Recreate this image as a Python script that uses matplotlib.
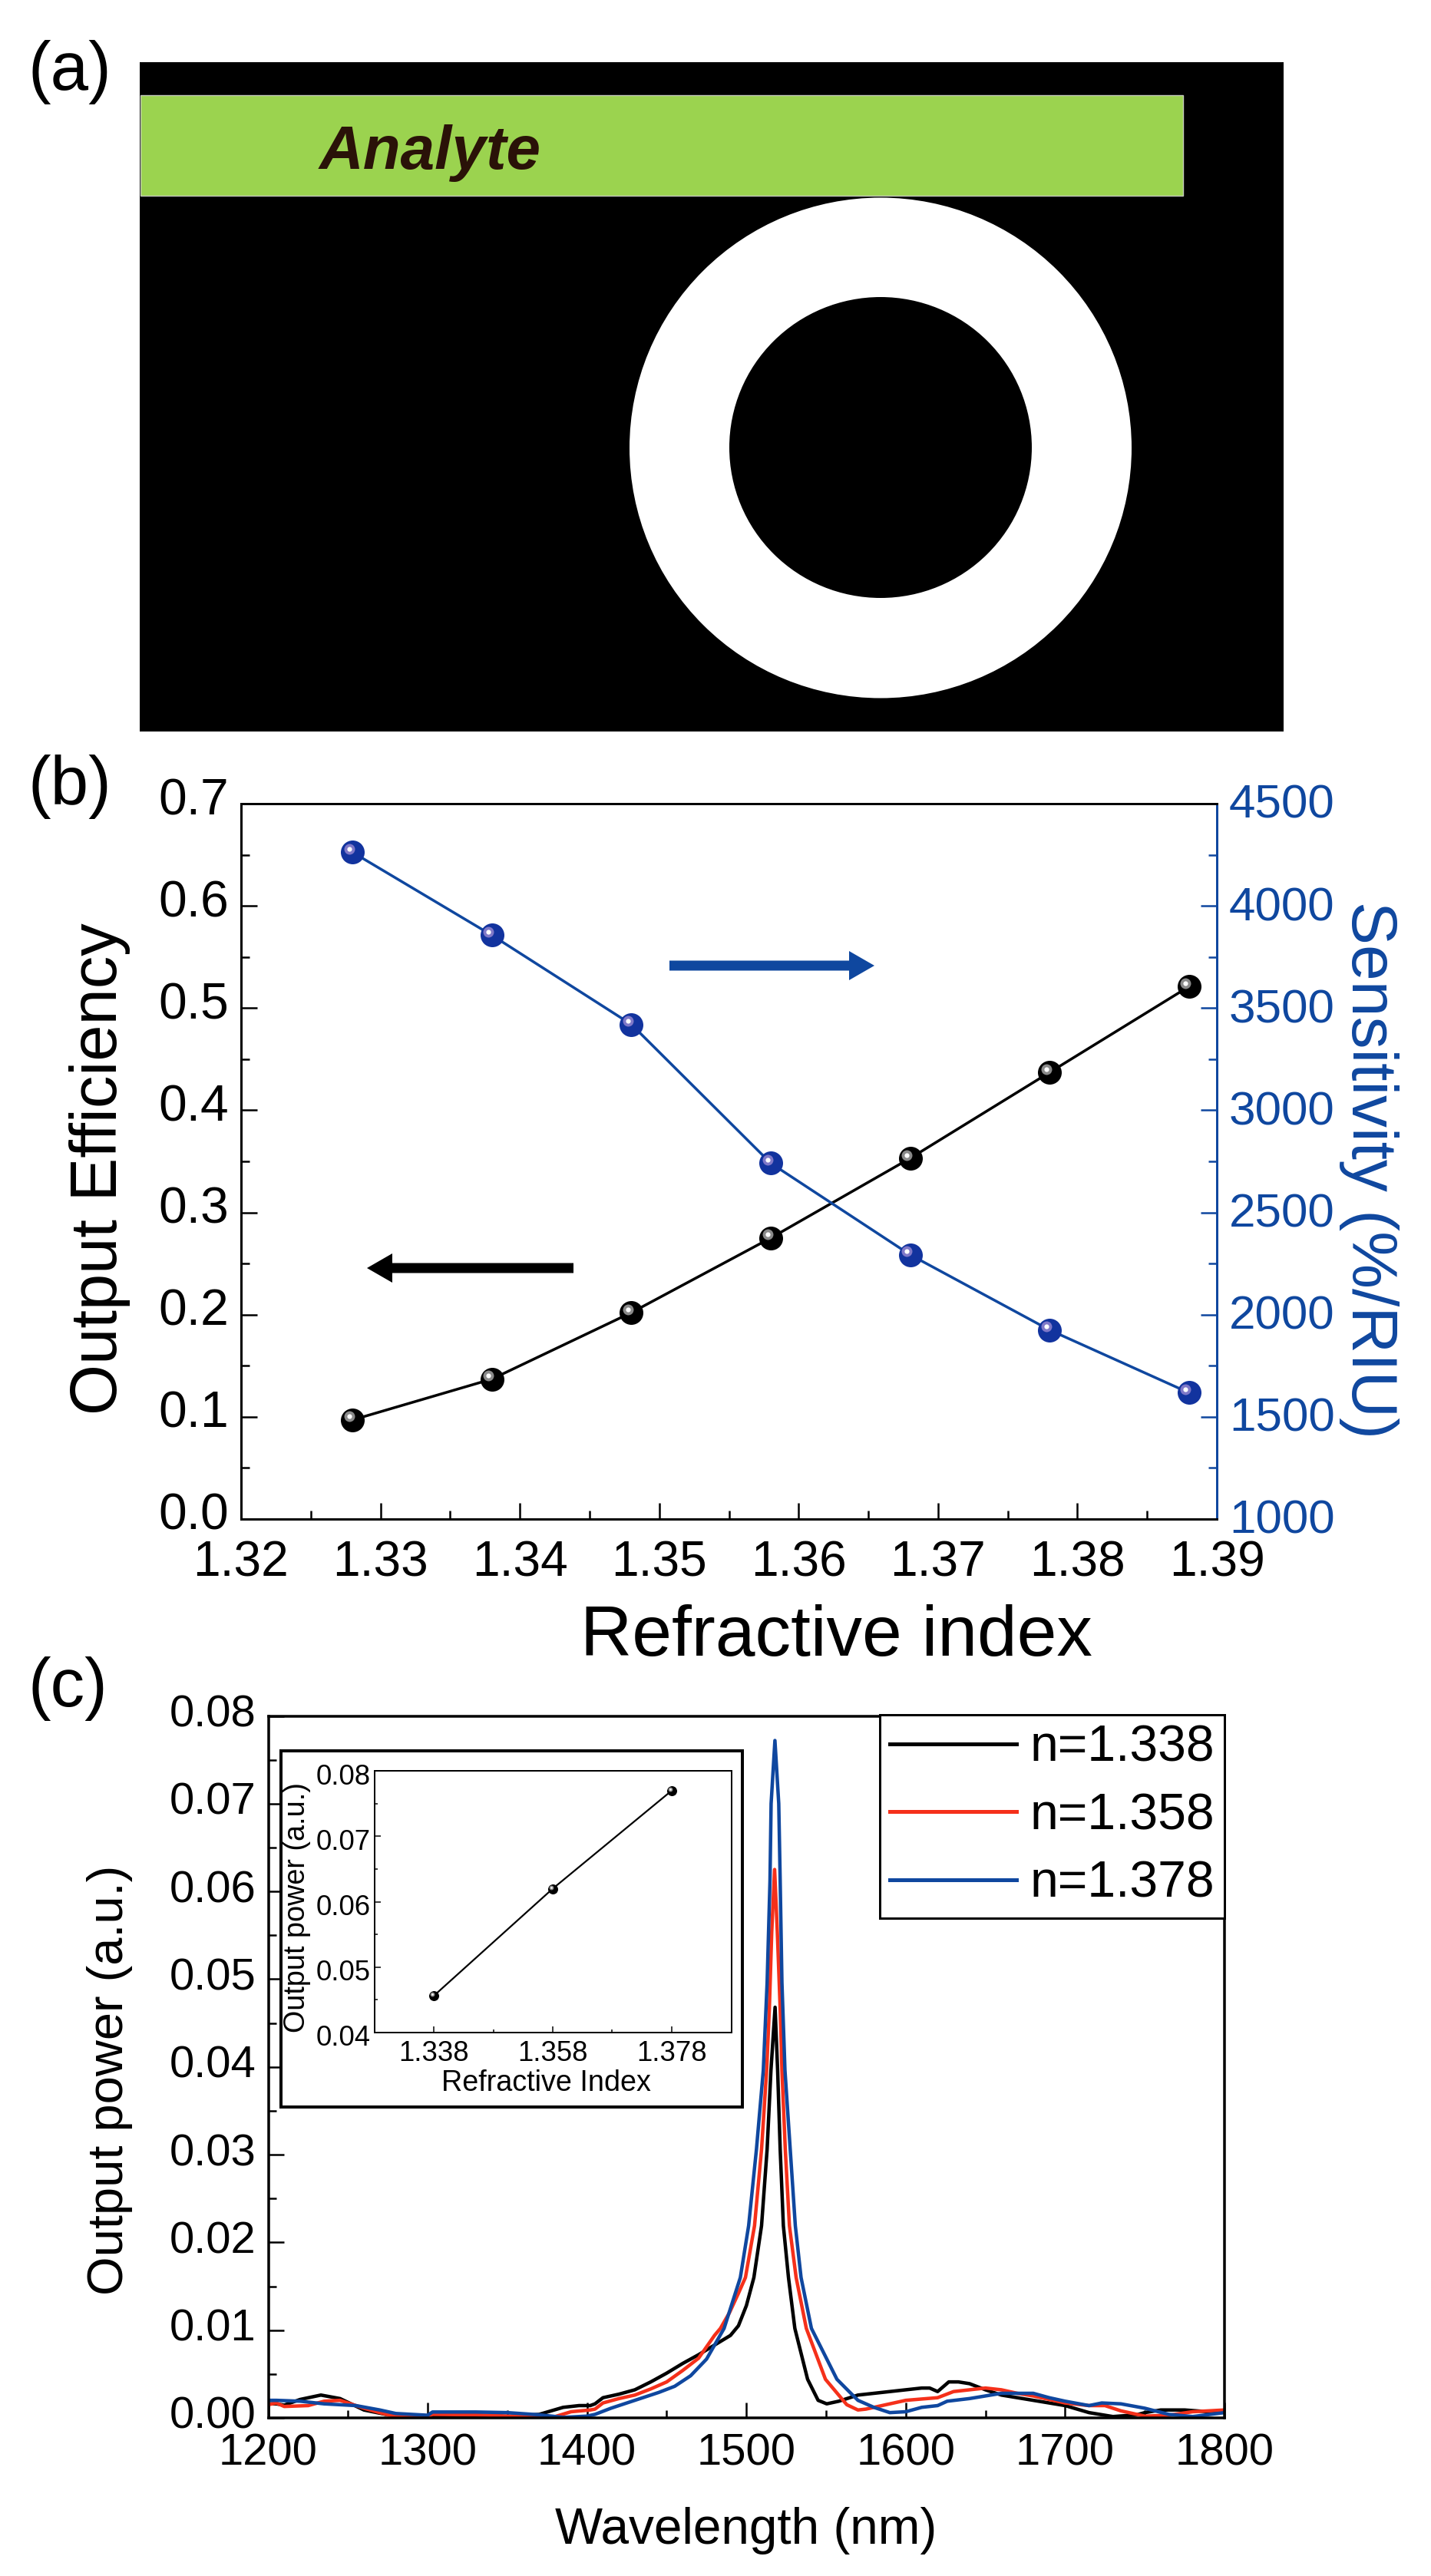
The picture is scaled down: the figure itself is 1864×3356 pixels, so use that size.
from matplotlib import pyplot as plt
from matplotlib.patches import Rectangle, Ellipse, FancyArrow
from matplotlib.ticker import MultipleLocator, FixedLocator
from matplotlib.transforms import ScaledTranslation, offset_copy, IdentityTransform
import numpy as np

plt.rcParams['font.family'] = ['Liberation Sans', 'DejaVu Sans']

W, H = 1864, 3356
DPI = 100
BLUE = '#0F479F'
RED = '#F5301A'

# panel (b)
n_b = [1.328, 1.338, 1.348, 1.358, 1.368, 1.378, 1.388]
efficiency = [0.097, 0.137, 0.202, 0.275, 0.353, 0.437, 0.521]
sensitivity = [4262, 3856, 3420, 2741, 2293, 1925, 1618]

# panel (c), curves
wl_338 = [1200, 1205, 1210, 1220, 1233, 1245, 1260, 1275, 1300, 1320, 1350, 1370, 1385, 1395, 1402, 1405,
          1410, 1420, 1430, 1440, 1450, 1460, 1470, 1480, 1490, 1495, 1500, 1504.7, 1509.5, 1513, 1515.4, 1518,
          1519.6, 1521.2, 1523.2, 1526.4, 1530.4, 1538.4, 1545, 1550.4, 1558, 1570, 1580, 1590, 1600, 1610,
          1615, 1620, 1627, 1633, 1640, 1650, 1660, 1670, 1680, 1700, 1715, 1730, 1745, 1750, 1760, 1775,
          1790, 1800]
p_338 = [.0016, .0016, .00145, .0021, .0026, .0022, .0009, .00035, .00015, .00006, .00015, .0004, .0012,
         .0014, .0014, .0016, .0023, .0027, .0032, .0041, .0051, .0062, .0072, .0083, .0094, .0105, .0128,
         .016, .0219, .0306, .0396, .0468, .0396, .0306, .0219, .016, .0102, .0044, .002, .0016, .0019,
         .0026, .0028, .003, .0032, .0034, .0034, .003, .0041, .0041, .0039, .0032, .0026, .0023, .002,
         .0014, .0006, .00015, .00035, .0006, .0009, .0009, .0007, .0007]

wl_358 = [1200, 1205, 1210, 1225, 1235, 1245, 1260, 1275, 1285, 1300, 1303, 1330, 1360, 1380, 1390, 1402,
          1405, 1410, 1420, 1430, 1440, 1450, 1460, 1470, 1480, 1483.7, 1489.4, 1495, 1499.4, 1505.1, 1509.5,
          1512.7, 1514.4, 1515.9, 1517.7, 1519.4, 1521.2, 1522.3, 1524.4, 1527, 1531.2, 1537.6, 1549.6, 1563,
          1570, 1575, 1585, 1600, 1620, 1630, 1640, 1650, 1660, 1670, 1680, 1700, 1715, 1725, 1735, 1750,
          1765, 1780, 1800]
p_358 = [.0015, .0017, .0013, .0014, .0019, .002, .0011, .00035, .0001, .00015, .0004, .00035, .00015,
         .00015, .0007, .0009, .001, .0017, .0022, .0026, .0033, .0041, .0054, .0068, .0094, .0102, .012,
         .0142, .016, .0219, .0306, .0396, .0466, .0554, .0625, .0554, .0466, .0396, .0306, .0219, .016,
         .0102, .0044, .0015, .0009, .001, .0014, .002, .0023, .003, .0032, .0034, .0032, .0028, .0025,
         .0017, .0014, .0014, .0008, .0002, .0003, .0007, .0009]

wl_378 = [1200, 1205, 1220, 1235, 1255, 1270, 1280, 1300, 1303, 1330, 1350, 1370, 1385, 1400, 1405, 1415,
          1430, 1445, 1455, 1465, 1475, 1486, 1496.2, 1501.4, 1506.3, 1510.6, 1513, 1514.8, 1515.5, 1517.9,
          1520.3, 1521.2, 1522.3, 1524.2, 1527.5, 1530.7, 1534.3, 1540.8, 1556.8, 1565, 1570, 1580, 1590,
          1600, 1610, 1620, 1626, 1640, 1650, 1660, 1680, 1690, 1700, 1715, 1723, 1735, 1750, 1765, 1780,
          1800]
p_378 = [.002, .002, .0019, .0016, .0014, .0009, .0005, .0003, .00067, .00067, .0006, .00035, .00006,
         .0002, .0004, .0011, .002, .0029, .0036, .0048, .0067, .0102, .016, .0219, .0306, .0396, .0496,
         .0612, .07, .0772, .07, .0612, .0496, .0396, .0306, .0219, .016, .0102, .0044, .0029, .002, .0012,
         .0006, .0007, .0012, .0014, .0019, .0022, .0025, .0028, .0028, .0023, .0019, .0014, .0017, .0016,
         .0011, .0004, .00015, .0006]
curve_labels = ['n=1.338', 'n=1.358', 'n=1.378']

# inset of (c)
n_inset = [1.338, 1.358, 1.378]
p_inset = [0.0456, 0.062, 0.077]


def px(size):
    # pixels to points
    return size * 72.0 / DPI


def fx(x):
    return x / W


def fy(y):
    return 1 - y / H


def axes_px(left, top, right, bottom):
    return fig.add_axes([fx(left), fy(bottom), (right - left) / W, (bottom - top) / H])


def shift_labels(labels, dy):
    # tick labels sit a bit off their ticks in the original
    for lab in labels:
        lab.set_transform(lab.get_transform() + ScaledTranslation(0, dy / DPI, fig.dpi_scale_trans))


def sphere(ax, x, y, color, glow, size):
    ax.plot(x, y, 'o', color=color, ms=px(size), mew=0, clip_on=False, zorder=4)
    tr = offset_copy(ax.transData, fig=fig, x=-size * 0.14, y=size * 0.145, units='dots')
    ax.plot(x, y, 'o', color=glow, ms=px(size * 0.45), mew=0, transform=tr, clip_on=False, zorder=5)
    ax.plot(x, y, 'o', color='white', ms=px(size * 0.2), mew=0, transform=tr, clip_on=False, zorder=6)


def arrow(x0, x1, y, color):
    fig.add_artist(FancyArrow(x0, H - y, x1 - x0, 0, width=13, head_width=38, head_length=33,
                              length_includes_head=True, fc=color, ec='none', transform=IdentityTransform()))


fig = plt.figure(figsize=(W / DPI, H / DPI), dpi=DPI)

# (a) schematic, pixel geometry
ax_a = axes_px(182, 81, 1672, 953)
ax_a.set_xlim(182, 1672)
ax_a.set_ylim(953, 81)
ax_a.axis('off')
ax_a.add_patch(Rectangle((182, 81), 1490, 872, fc='black', ec='none'))
ax_a.add_patch(Ellipse((1147, 583.5), 654, 652, fc='white', ec='none'))
ax_a.add_patch(Ellipse((1147, 583), 394, 392, fc='black', ec='none'))
ax_a.add_patch(Rectangle((183, 124), 1358, 131, fc='#9BD34F', ec='#C4C9BC', lw=1))
ax_a.text(416, 220, 'Analyte', fontsize=px(80), style='italic', weight='bold', color='#2A1208',
          ha='left', va='baseline')

# (b)
ax_b = axes_px(314, 1047, 1585, 1979)
ax_b.plot(n_b, efficiency, '-', color='black', lw=px(3.5))
sphere(ax_b, n_b, efficiency, 'black', '#8A8A8A', 31)
ax_b.set_xlim(1.32, 1.39)
ax_b.set_ylim(0, 0.7)
ax_b.xaxis.set_minor_locator(MultipleLocator(0.005))
ax_b.yaxis.set_major_locator(MultipleLocator(0.1))
ax_b.yaxis.set_minor_locator(MultipleLocator(0.05))
ax_b.set_xticks(np.arange(1.32, 1.395, 0.01))
ax_b.set_xticklabels(['%.2f' % v for v in np.arange(1.32, 1.395, 0.01)])
ax_b.tick_params(which='major', direction='in', length=px(21), width=px(2.5), labelsize=px(64), pad=px(27))
ax_b.tick_params(which='minor', direction='in', length=px(11), width=px(2.5))
ax_b.tick_params(axis='y', which='major', labelsize=px(66), pad=px(16))

ax_s = ax_b.twinx()
ax_s.plot(n_b, sensitivity, '-', color=BLUE, lw=px(3.5))
sphere(ax_s, n_b, sensitivity, '#12339E', '#7F78C8', 31)
ax_s.set_ylim(1000, 4500)
ax_s.yaxis.set_major_locator(MultipleLocator(500))
ax_s.yaxis.set_minor_locator(MultipleLocator(250))
ax_s.tick_params(which='major', direction='in', length=px(21), width=px(2.5), colors=BLUE, labelsize=px(62), pad=px(16))
ax_s.tick_params(which='minor', direction='in', length=px(11), width=px(2.5), colors=BLUE)
for ax in (ax_b, ax_s):
    for sp in ax.spines.values():
        sp.set_linewidth(px(3))
ax_s.spines['right'].set_color(BLUE)
shift_labels(ax_b.get_yticklabels(), 10)
shift_labels(ax_s.get_yticklabels(), 3)

fig.text(fx(1089), fy(2133), 'Refractive index', fontsize=px(93), ha='center', va='center')
fig.text(fx(130), fy(1523), 'Output Efficiency', fontsize=px(85), rotation=90, ha='center', va='center')
fig.text(fx(1783), fy(1524), 'Sensitivity (%/RIU)', fontsize=px(84), rotation=270, color=BLUE, ha='center', va='center')

arrow(872, 1139, 1258, BLUE)
arrow(747, 478, 1652, 'black')

# (c)
ax_c = axes_px(349.5, 2235.5, 1595, 3150)
ax_c.plot(wl_338, p_338, color='black', lw=px(4.5), label=curve_labels[0])
ax_c.plot(wl_358, p_358, color=RED, lw=px(4.5), label=curve_labels[1])
ax_c.plot(wl_378, p_378, color=BLUE, lw=px(4.5), label=curve_labels[2])
ax_c.set_xlim(1200, 1800)
ax_c.set_ylim(0, 0.08)
ax_c.xaxis.set_major_locator(MultipleLocator(100))
ax_c.xaxis.set_minor_locator(MultipleLocator(50))
ax_c.yaxis.set_major_locator(MultipleLocator(0.01))
ax_c.yaxis.set_minor_locator(MultipleLocator(0.005))
ax_c.tick_params(which='major', direction='in', length=px(20), width=px(2.5), labelsize=px(58), pad=px(20))
ax_c.tick_params(which='minor', direction='in', length=px(10), width=px(2.5))
ax_c.tick_params(axis='y', which='major', pad=px(16))
for sp in ax_c.spines.values():
    sp.set_linewidth(px(3.5))
shift_labels(ax_c.get_yticklabels(), 7)
leg = ax_c.legend(loc='upper right', bbox_to_anchor=(1.0, 1.002), borderaxespad=0, fancybox=False, framealpha=1,
                  edgecolor='black', fontsize=px(66), handlelength=2.5, handletextpad=0.26, borderpad=0.2,
                  labelspacing=0.4)
leg.get_frame().set_linewidth(px(3))
for line in leg.get_lines():
    line.set_linewidth(px(5))

fig.text(fx(143), fy(2710), 'Output power (a.u.)', fontsize=px(65), rotation=90, ha='center', va='center')
fig.text(fx(972), fy(3297), 'Wavelength (nm)', fontsize=px(65.8), ha='center', va='center')

# inset frame and inset
fig.add_artist(Rectangle((fx(366), fy(2744.5)), (967.5 - 366) / W, (2744.5 - 2281) / H, fc='white', ec='black',
                         lw=px(4), transform=fig.transFigure, zorder=2.5))
ax_i = axes_px(488.5, 2307.4, 953, 2647.7)
ax_i.set_zorder(3)
ax_i.plot(n_inset, p_inset, '-', color='black', lw=px(2.2))
sphere(ax_i, n_inset, p_inset, 'black', '#8A8A8A', 13)
ax_i.set_xlim(1.3281, 1.3881)
ax_i.set_ylim(0.04, 0.08)
ax_i.xaxis.set_major_locator(FixedLocator(n_inset))
ax_i.xaxis.set_minor_locator(FixedLocator([1.348, 1.368]))
ax_i.yaxis.set_major_locator(MultipleLocator(0.01))
ax_i.yaxis.set_minor_locator(MultipleLocator(0.005))
ax_i.set_xticklabels(['%.3f' % v for v in n_inset])
ax_i.tick_params(which='major', direction='in', length=px(8), width=px(1.5), labelsize=px(36.5), pad=px(10))
ax_i.tick_params(which='minor', direction='in', length=px(4), width=px(1.5))
ax_i.tick_params(axis='y', which='major', pad=px(6))
for sp in ax_i.spines.values():
    sp.set_linewidth(px(2))
shift_labels(ax_i.get_yticklabels(), -4)
fig.text(fx(711), fy(2714), 'Refractive Index', fontsize=px(37.7), ha='center', va='center', zorder=4)
fig.text(fx(387), fy(2485), 'Output power (a.u.)', fontsize=px(37.7), rotation=90, ha='center', va='center', zorder=4)

# panel letters
fig.text(fx(36), fy(94), '(a)', fontsize=px(89), ha='left', va='center')
fig.text(fx(36), fy(1025), '(b)', fontsize=px(89), ha='left', va='center')
fig.text(fx(36), fy(2200), '(c)', fontsize=px(89), ha='left', va='center')

fig.savefig('out.png', dpi=DPI)
